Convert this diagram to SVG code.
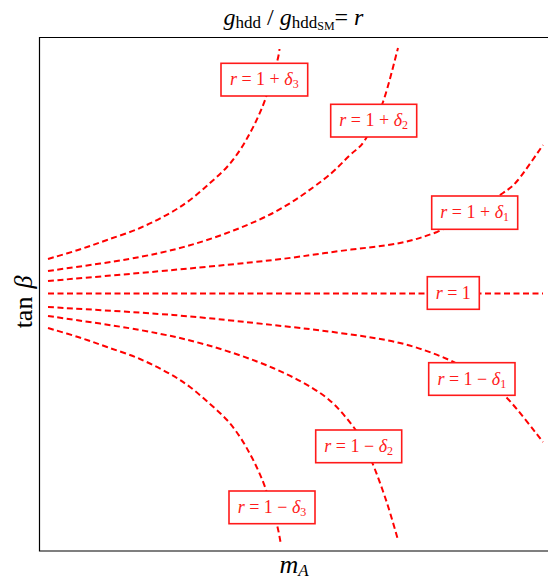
<svg xmlns="http://www.w3.org/2000/svg" width="548" height="583" viewBox="0 0 548 583">
<style>
.c{fill:none;stroke:#ff0000;stroke-width:2;stroke-dasharray:6,3.5}
.b{fill:#ffffff;stroke:#ff1a1a;stroke-width:1.6}
.t{font-family:"Liberation Serif","Times New Roman",serif;font-size:18px;fill:#ff1a1a;text-anchor:middle}
.i{font-style:italic}
.ax{font-family:"Liberation Serif","Times New Roman",serif;fill:#000;text-anchor:middle}
</style>
<rect width="548" height="583" fill="#ffffff"/>
<g id="frame" stroke="#000" stroke-width="1.2" fill="none">
<path d="M548,37.5 H39.5 V551 H548"/>
</g>
<g id="connectors">
<path class="c" d="M48,293.5 H543"/>
<path class="c" d="M48,259 C53,257.5 68.2,253.2 78,250 C87.8,246.8 96.7,243.7 107,240 C117.3,236.3 129.5,232.5 140,228 C150.5,223.5 161.7,217.7 170,213 C178.3,208.3 183.3,205 190,200 C196.7,195 203.8,188.5 210,183 C216.2,177.5 222,172.5 227,167 C232,161.5 236.2,155.7 240,150 C243.8,144.3 247,138.5 250,133 C253,127.5 255.5,122.5 258,117 C260.5,111.5 262.7,106.5 265,100 C267.3,93.5 269.9,84.7 272,78 C274.1,71.3 276.25,64.7 277.5,60 C278.75,55.3 279.2,51.7 279.5,49"/>
<path class="c" d="M48,271 C63.3,268.7 113.5,262.2 140,257 C166.5,251.8 184.8,247.3 207,240 C229.2,232.7 253.7,223 273,213 C292.3,203 310.2,189.7 323,180 C335.8,170.3 343,161.7 350,155 C357,148.3 359.5,148.8 365,140 C370.5,131.2 377.5,117.3 383,102 C388.5,86.7 395.5,57 398,48"/>
<path class="c" d="M48,281 C68.8,279.2 135.5,273.5 173,270 C210.5,266.5 245.2,263.2 273,260 C300.8,256.8 318.8,253.8 340,251 C361.2,248.2 383.8,246.2 400,243 C414,240.2 424,236.8 437,232 C448.7,227.2 459,220.5 470,214 C481,207.5 495,198.7 503,193 C511,187.3 511.3,188 518,180 C524.7,172 538.8,150.8 543,145"/>
<path class="c" d="M48,307 C68.8,308.3 135.5,312 173,315 C210.5,318 245.2,322 273,325 C300.8,328 318.8,330 340,333 C361.2,336 382.2,338.7 400,343 C417.8,347.3 433.7,353.2 447,359 C460.3,364.8 470,371.5 480,378 C490,384.5 496.5,387.3 507,398 C517.5,408.7 537,434.7 543,442"/>
<path class="c" d="M48,316 C63.3,318.3 113.5,325.2 140,330 C166.5,334.8 184.8,338.7 207,345 C229.2,351.3 253.7,359.7 273,368 C292.3,376.3 309.8,385.5 323,395 C336.2,404.5 345.2,416.5 352,425 C358.8,433.5 360.3,439 364,446 C367.7,453 370.2,457.5 374,467 C377.8,476.5 383,490.8 387,503 C391,515.2 396.2,533.8 398,540"/>
<path class="c" d="M48,328 C53,329.5 68.2,333.8 78,337 C87.8,340.2 96.7,343.3 107,347 C117.3,350.7 129.5,354.5 140,359 C150.5,363.5 161.7,369.3 170,374 C178.3,378.7 183.3,382 190,387 C196.7,392 203.8,398.5 210,404 C216.2,409.5 222,414.5 227,420 C232,425.5 236.2,431.3 240,437 C243.8,442.7 247,448.5 250,454 C253,459.5 255.5,464.5 258,470 C260.5,475.5 262.7,480.5 265,487 C267.3,493.5 269.9,502.3 272,509 C274.1,515.7 276.1,521.5 277.5,527 C278.9,532.5 280,539.5 280.5,542"/>
</g>
<g id="label-p3"><rect class="b" x="221" y="63.3" width="86.7" height="32.7"/><text class="t" x="264.3" y="85"><tspan class="i">r</tspan> = 1 + <tspan class="i">δ</tspan><tspan font-size="12" dy="3">3</tspan></text></g>
<g id="label-p2"><rect class="b" x="330.7" y="104.3" width="86" height="32.7"/><text class="t" x="373.7" y="126"><tspan class="i">r</tspan> = 1 + <tspan class="i">δ</tspan><tspan font-size="12" dy="3">2</tspan></text></g>
<g id="label-p1"><rect class="b" x="431.7" y="196" width="86" height="33.3"/><text class="t" x="474.7" y="218"><tspan class="i">r</tspan> = 1 + <tspan class="i">δ</tspan><tspan font-size="12" dy="3">1</tspan></text></g>
<g id="label-0"><rect class="b" x="427.3" y="276.7" width="52" height="32.6"/><text class="t" x="453.3" y="298.5"><tspan class="i">r</tspan> = 1</text></g>
<g id="label-m1"><rect class="b" x="428.7" y="362.7" width="86.3" height="32.6"/><text class="t" x="471.8" y="384.5"><tspan class="i">r</tspan> = 1 − <tspan class="i">δ</tspan><tspan font-size="12" dy="3">1</tspan></text></g>
<g id="label-m2"><rect class="b" x="315.7" y="430" width="86" height="32.7"/><text class="t" x="358.7" y="452"><tspan class="i">r</tspan> = 1 − <tspan class="i">δ</tspan><tspan font-size="12" dy="3">2</tspan></text></g>
<g id="label-m3"><rect class="b" x="229" y="491" width="86" height="32.7"/><text class="t" x="272" y="513"><tspan class="i">r</tspan> = 1 − <tspan class="i">δ</tspan><tspan font-size="12" dy="3">3</tspan></text></g>
<g id="title"><text class="ax" x="293.5" y="25" font-size="24"><tspan class="i">g</tspan><tspan font-size="17" dy="3">hdd</tspan><tspan dy="-3"> / </tspan><tspan class="i">g</tspan><tspan font-size="17" dy="3">hdd</tspan><tspan font-size="12" dy="2">SM</tspan><tspan dy="-5">= </tspan><tspan class="i">r</tspan></text></g>
<g id="ylabel"><text class="ax" font-size="26" transform="translate(32,302) rotate(-90)">tan<tspan class="i" dx="8">β</tspan></text></g>
<g id="xlabel"><text class="ax" x="294" y="573" font-size="26"><tspan class="i">m</tspan><tspan class="i" font-size="17" dy="3">A</tspan></text></g>
</svg>
